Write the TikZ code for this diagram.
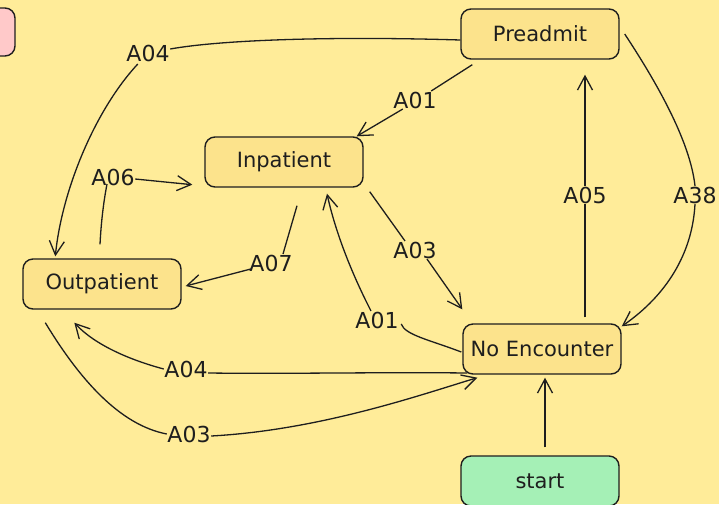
\documentclass[tikz,border=0pt]{standalone}
\usepackage{fontspec}
\setmainfont{DejaVu Sans}
\usetikzlibrary{arrows.meta,calc}
\definecolor{paper}{HTML}{FFEC99}
\definecolor{boxfill}{HTML}{FCE38C}
\definecolor{startfill}{HTML}{A5F0B6}
\definecolor{pinkfill}{HTML}{FFC9C9}
\definecolor{ink}{HTML}{1E1E1E}
\tikzset{
  state/.style={draw=ink, line width=1.4pt, rounded corners=10pt, fill=boxfill,
    minimum width=158pt, minimum height=50pt, font=\fontsize{21}{25}\selectfont, text=ink},
  lbl/.style={font=\fontsize{22}{26}\selectfont, text=ink, inner sep=0.5pt},
  edge/.style={draw=ink, line width=1.3pt},
  arr/.style={edge, -{Straight Barb[length=14pt,width=15pt,line width=1.3pt]}},
}
\begin{document}
\begin{tikzpicture}[x=1pt,y=-1pt]
\fill[paper] (0,0) rectangle (719,504);
\useasboundingbox (0,0) rectangle (719,504);

% states
\node[state] (pre) at (540,34) {Preadmit};
\node[state] (inp) at (284,162) {Inpatient};
\node[state] (out) at (102,284) {Outpatient};
\node[state] (noe) at (542,349) {No Encounter};
\node[state, fill=startfill] (start) at (540,481) {start};
\draw[draw=ink, line width=1.4pt, rounded corners=10pt, fill=pinkfill] (-30,8) rectangle (15,56);

% transition labels
\node[lbl] (a04top) at (148,53) {A04};
\node[lbl] (a01top) at (415,100) {A01};
\node[lbl] (a38) at (695,195) {A38};
\node[lbl] (a05) at (585,195) {A05};
\node[lbl] (a06) at (113,177) {A06};
\node[lbl] (a07) at (271,263) {A07};
\node[lbl] (a03mid) at (415,250) {A03};
\node[lbl] (a01mid) at (377,320) {A01};
\node[lbl] (a04low) at (186,369) {A04};
\node[lbl] (a03low) at (189,434) {A03};

% Preadmit -> Outpatient
\draw[edge] ($(pre.west)+(0,6)$) .. controls (330,36) and (220,40) .. ($(a04top.east)+(0,-4)$);
\draw[arr] ($(a04top.south west)+(12,2)$) .. controls (95,110) and (62,190) .. ($(out.north west)+(33,-2)$);

% Preadmit -> Inpatient
\draw[edge] ($(pre.south west)+(12,5)$) -- ($(a01top.north east)+(-6,0)$);
\draw[arr] ($(a01top.south west)+(10,0)$) -- ($(inp.north east)+(-7,0)$);

% Preadmit -> No Encounter
\draw[edge] ($(pre.east)+(5,0)$) .. controls (655,80) and (690,140) .. ($(a38.north)+(0,0)$);
\draw[arr] ($(a38.south)+(0,0)$) .. controls (692,260) and (660,300) .. ($(noe.north east)+(0,3)$);

% No Encounter -> Preadmit
\draw[edge] ($(noe.north)+(43,-6)$) -- (a05.south);
\draw[arr] (a05.north) -- ($(pre.south)+(45,15)$);

% Outpatient -> Inpatient
\draw[edge] ($(out.north)+(-2,-14)$) .. controls (101,225) and (103,205) .. ($(a06.south)+(-6,-2)$);
\draw[arr] ($(a06.east)+(0,2)$) -- ($(inp.south west)+(-12,-3)$);

% Inpatient -> Outpatient
\draw[edge] ($(inp.south)+(13,18)$) -- ($(a07.north)+(12,0)$);
\draw[arr] ($(a07.west)+(2,6)$) -- ($(out.east)+(4,2)$);

% Inpatient -> No Encounter
\draw[edge] ($(inp.south east)+(6,4)$) -- ($(a03mid.north)+(-10,0)$);
\draw[arr] ($(a03mid.south)+(12,0)$) -- ($(noe.north west)+(0,-14)$);

% No Encounter -> Inpatient
\draw[edge] ($(noe.west)+(-1,3)$) .. controls (430,340) and (405,335) .. ($(a01mid.east)+(2,4)$);
\draw[arr] ($(a01mid.north)+(-6,0)$) .. controls (350,270) and (335,230) .. ($(inp.south)+(43,6)$);

% No Encounter -> Outpatient
\draw[edge] ($(noe.west)+(5,24)$) .. controls (380,372) and (290,374) .. ($(a04low.east)+(0,4)$);
\draw[arr] ($(a04low.west)+(0,0)$) .. controls (130,360) and (95,345) .. ($(out.south west)+(52,13)$);

% Outpatient -> No Encounter
\draw[edge] ($(out.south west)+(23,13)$) .. controls (80,380) and (120,425) .. ($(a03low.west)+(0,0)$);
\draw[arr] ($(a03low.east)+(0,2)$) .. controls (320,430) and (420,395) .. ($(noe.south west)+(15,3)$);

% start -> No Encounter
\draw[arr] ($(start.north)+(5,-8)$) -- ($(noe.south)+(3,3)$);
\end{tikzpicture}
\end{document}
